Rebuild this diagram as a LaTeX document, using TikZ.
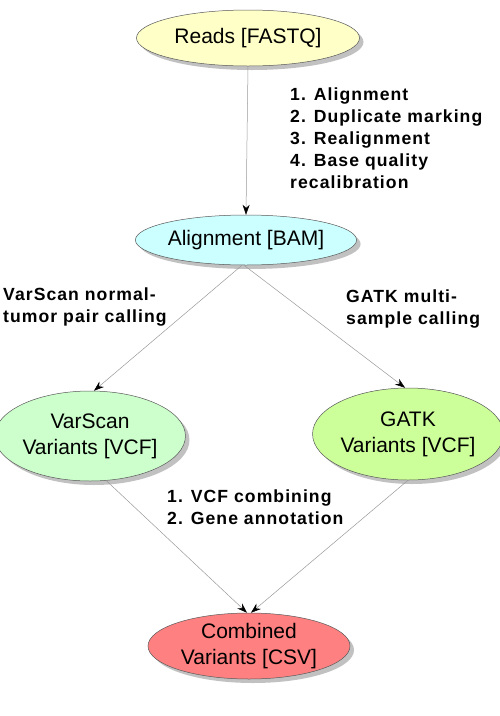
\documentclass[tikz,border=0pt]{standalone}
\usepackage{fontspec}
\setmainfont{Liberation Sans}
\newfontfamily\lblfont[LetterSpace=6]{Liberation Sans}
\usetikzlibrary{shapes.geometric,shadows,arrows.meta}
\definecolor{cReads}{RGB}{255,255,200}
\definecolor{cAln}{RGB}{204,255,255}
\definecolor{cVs}{RGB}{204,255,204}
\definecolor{cGatk}{RGB}{204,255,153}
\definecolor{cCmb}{RGB}{255,128,128}
\tikzset{
  datanode/.style={ellipse, draw=gray!70!black, line width=0.5pt, inner sep=0pt,
    font=\fontsize{21}{26}\selectfont, align=center, text=black,
    drop shadow={shadow xshift=4pt, shadow yshift=-4pt, fill=gray!60, opacity=0.8}},
  conn/.style={draw=gray!80, line width=0.5pt, -{Stealth[black,length=10pt,width=7pt]}},
  lbl/.style={font=\lblfont\bfseries\fontsize{17.6}{22}\selectfont, align=left, anchor=north west, inner sep=0pt, text=black}
}
\begin{document}
\begin{tikzpicture}[x=1pt,y=-1pt]
\useasboundingbox (0,0) rectangle (499,716);
\node[datanode, fill=cReads, minimum width=223pt, minimum height=56pt] (reads) at (248,38) {Reads [FASTQ]};
\node[datanode, fill=cAln, minimum width=202pt, minimum height=50pt] (aln) at (246,240) {Alignment [BAM]};
\node[datanode, fill=cVs, minimum width=174pt, minimum height=90pt] (vs) at (90,436) {VarScan\\Variants [VCF]};
\node[datanode, fill=cGatk, minimum width=170pt, minimum height=92pt] (gatk) at (408,434) {GATK\\Variants [VCF]};
\node[datanode, fill=cCmb, minimum width=202pt, minimum height=66pt] (cmb) at (249,646) {Combined\\Variants [CSV]};

\draw[conn] (reads.south) -- (aln.north);
\draw[conn] ([xshift=-4pt]aln.south) -- ([xshift=4pt]vs.north);
\draw[conn] ([xshift=-2pt]aln.south) -- ([xshift=-3pt]gatk.north);
\draw[conn] (vs.-70) -- ([xshift=-2pt]cmb.north);
\draw[conn] (gatk.south) -- ([xshift=2pt]cmb.north);

\node[lbl] (l1) at (290,88) {1. Alignment\\2. Duplicate marking\\3. Realignment\\4. Base quality\\recalibration};
\node[lbl] (l2) at (3,288) {VarScan normal-\\tumor pair calling};
\node[lbl] (l3) at (346,290) {GATK multi-\\sample calling};
\node[lbl] (l4) at (167,490) {1. VCF combining\\2. Gene annotation};
\end{tikzpicture}
\end{document}
